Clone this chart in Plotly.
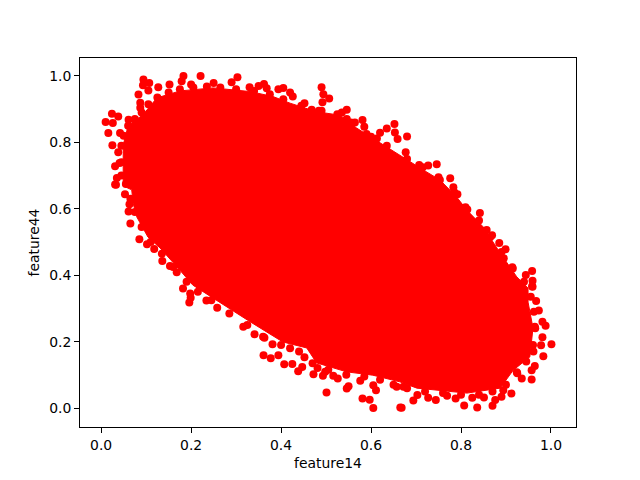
import plotly.graph_objects as go

# Outlying points
feature14 = [.094,.107,.093,.127,.152,.183,.179,.221,.200,.303,.250,.290,.083,.105,.087,.087,.024,.038,.010,.061,.026,.016,.042,.025,.038,.031,.041,.035,.031,
 .033,.053,.063,.061,.065,.085,.102,.118,.136,.153,.168,.182,.198,.199,.196,.234,.258,
 .316,.341,.363,.381,.361,.377,.394,.407,.425,.438,.447,.452,.420,.472,.493,.498,.481,.516,.526,.501,.546,.550,.576,.581,.597,.605,.611,.665,.657,.605,
 .668,.694,.703,.672,.727,.744,.769,.788,.807,.836,.825,.851,.870,.876,.890,.912,.894,.957,.935,.924,.957,.964,.983,.961,.978,1.001,.981,.988,.981,.964,.973,.967,.959,
 .958,.959,.958,.944,.914,.895,.899,.885,.869,.842,.814,.792,.783,.776,.746,.727,.707,.753,.857,
 .330,.362,.350,.368,.394,.405,.420,.426,.490,.494,.507,.492,.452,.468,.484,.546,.535,.546,.564,.581,.585,.600,.613,.635,.652,.653,.659,.680,.677,.620]
feature44 = [.989,.979,.972,.966,.974,1.000,.984,1.000,.974,.996,.979,.981,.944,.956,.919,.904,.886,.878,.861,.868,.858,.828,.828,.791,.770,.728,.738,.693,.673,
 .672,.644,.614,.592,.556,.508,.493,.479,.443,.428,.409,.360,.345,.332,.318,.324,.302,
 .245,.222,.212,.192,.159,.150,.159,.132,.133,.111,.124,.153,.180,.102,.097,.109,.121,.097,.089,.047,.059,.066,.082,.029,.025,.000,.054,.002,.064,.069,
 .001,.023,.039,.064,.031,.024,.037,.029,.008,.002,.031,.032,.007,.024,.034,.044,.054,.086,.089,.108,.114,.127,.156,.170,.189,.192,.213,.248,.260,.245,.294,.322,.365,
 .367,.383,.413,.401,.424,.451,.478,.497,.520,.587,.598,.644,.665,.692,.734,.730,.732,.687,.536,
 .966,.976,.970,.963,.960,.964,.950,.938,.966,.945,.932,.921,.918,.898,.895,.898,.890,.870,.860,.867,.847,.817,.812,.842,.855,.830,.810,.818,.770,.829]

# Points along the rim of the solid core
rim_feature14 = [.055,.045,.045,.045,.05,.06,.075,.09,.105,.125,.15,.175,.205,.235,.265,.30,.34,.375,.405,.445,.49,.525,.555,.59,.635,.68,.715,.75,.785,.81,.84,.865,.89,.915,.94,.955,.962,.965,.96,.945,.925,.90,.87,.84,.80,.76,.72,.68,.65,.62,.585,.545,.505,.47,.44,.40,.36,.325,.285,.245,.215,.19,.16,.135,.11,.09,.075,.065]
rim_feature44 = [.675,.70,.74,.79,.82,.85,.87,.89,.915,.935,.95,.96,.965,.968,.965,.96,.955,.945,.93,.91,.895,.885,.86,.825,.79,.75,.725,.695,.65,.605,.565,.515,.47,.42,.38,.335,.29,.24,.19,.14,.105,.07,.05,.04,.04,.045,.05,.06,.07,.085,.095,.10,.115,.135,.17,.19,.215,.25,.285,.325,.35,.38,.425,.465,.50,.545,.59,.63]

# Envelope of the solid, fully overplotted core
core_feature14 = [.068,.049,.049,.049,.06,.093,.124,.176,.249,.309,.331,.382,.42,.479,.531,.568,.62,.679,.716,.753,.79,.813,.849,.887,.924,.949,.949,.96,.953,.916,.887,.813,.753,.702,.664,.604,.546,.479,.457,.404,.331,.249,.204,.168,.131,.104,.079,.071,.068]
core_feature44 = [.657,.669,.702,.792,.85,.883,.934,.955,.964,.955,.953,.938,.918,.892,.882,.843,.798,.747,.717,.687,.636,.596,.546,.467,.395,.361,.319,.241,.154,.114,.06,.045,.054,.06,.079,.099,.109,.136,.181,.199,.260,.331,.370,.426,.482,.515,.576,.617,.657]

x_ticks = [0.0, 0.2, 0.4, 0.6, 0.8, 1.0]
y_ticks = [0.0, 0.2, 0.4, 0.6, 0.8, 1.0]

fig = go.Figure()
fig.add_trace(go.Scatter(x=core_feature14, y=core_feature44, mode="lines", fill="toself",
                         fillcolor="#ff0000", line=dict(color="#ff0000", width=1), hoverinfo="skip"))
fig.add_trace(go.Scatter(x=rim_feature14, y=rim_feature44, mode="markers",
                         marker=dict(color="#ff0000", size=8, line=dict(width=0))))
fig.add_trace(go.Scatter(x=feature14, y=feature44, mode="markers",
                         marker=dict(color="#ff0000", size=8, line=dict(width=0))))

axis = dict(showgrid=False, zeroline=False, showline=True, mirror=True, linecolor="black", linewidth=1,
            ticks="outside", ticklen=5, tickwidth=1, tickcolor="black",
            tickformat=".1f", tickfont=dict(family="DejaVu Sans", size=13.9, color="black"))
fig.update_xaxes(axis, range=[-0.047, 1.0556], tickvals=x_ticks,
                 title=dict(text="feature14", font=dict(family="DejaVu Sans", size=13.9, color="black"), standoff=6))
fig.update_yaxes(axis, range=[-0.057, 1.054], tickvals=y_ticks,
                 title=dict(text="feature44", font=dict(family="DejaVu Sans", size=13.9, color="black"), standoff=6))
fig.update_layout(width=640, height=480, showlegend=False, plot_bgcolor="white", paper_bgcolor="white",
                  margin=dict(l=72, r=72, t=50, b=61))
fig.write_html("out.html")
